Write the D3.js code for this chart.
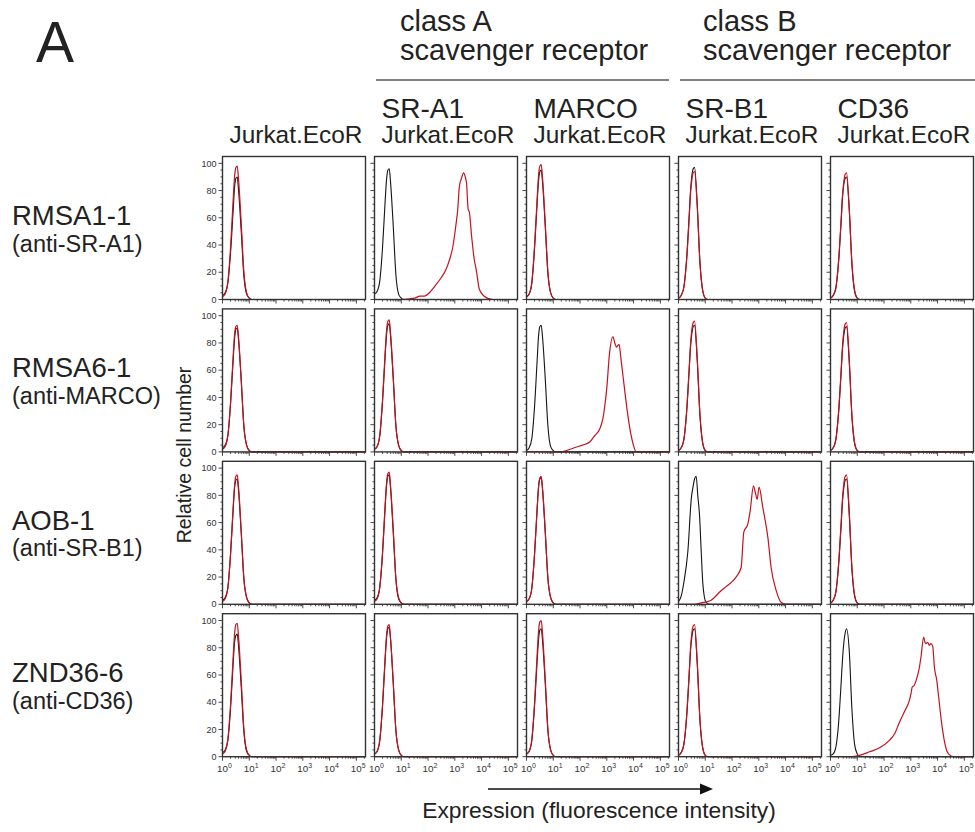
<!DOCTYPE html>
<html><head><meta charset="utf-8">
<script src="https://cdn.jsdelivr.net/npm/d3@7"></script>
<style>
body{margin:0;background:#fff;}
svg text{font-family:"Liberation Sans",Arial,Helvetica,sans-serif;fill:#222;}
</style></head><body>
<svg id="chart" width="975" height="832"></svg>
<script>
// ---------------- data ----------------
const panelLetter = "A";
const rowAntibodies = ["RMSA1-1", "RMSA6-1", "AOB-1", "ZND36-6"];
const rowTargets = ["(anti-SR-A1)", "(anti-MARCO)", "(anti-SR-B1)", "(anti-CD36)"];
const colReceptors = ["", "SR-A1", "MARCO", "SR-B1", "CD36"];
const colCellLine = "Jurkat.EcoR";
const classTitles = ["class A", "class B"];
const classSubtitle = "scavenger receptor";
const yAxisTitle = "Relative cell number";
const xAxisTitle = "Expression (fluorescence intensity)";
const yTicks = [0, 20, 40, 60, 80, 100];
const xTickExponents = [0, 1, 2, 3, 4, 5];
const xMax = 2.2e5;

// log10 fluorescence positions for the narrow (unstained / negative) peaks
const narrowGrid = [0, 0.1, 0.2, 0.3, 0.4, 0.45, 0.5, 0.55, 0.6, 0.7, 0.8, 0.9, 1.0, 1.1];

// broad stained peaks: [log10 fluorescence, relative cell number]
const srA1Stained = [[0,0],[1.0,0],[1.5,1],[1.7,2.5],[1.87,2.5],[2.05,5],[2.25,9.7],[2.49,16],[2.67,22],[2.8,29],[2.92,38],[3.05,56],[3.11,66],[3.17,83],[3.25,89],[3.33,93],[3.39,90],[3.44,85],[3.5,66],[3.54,64.5],[3.63,46],[3.73,29],[3.8,22],[3.92,7.3],[4.1,2.4],[4.3,0.5],[4.41,0]];
const marcoStained = [[0,0],[1.2,0],[1.49,1],[1.87,3.6],[2.1,5],[2.36,7.3],[2.55,12],[2.74,17],[2.85,24],[2.92,33],[3.0,47],[3.1,72],[3.23,84.5],[3.3,80],[3.36,77],[3.46,79],[3.52,70],[3.61,55],[3.7,40],[3.8,25],[3.9,13],[3.98,6],[4.1,0]];
const srB1Stained = [[0,0],[0.6,0],[0.85,1],[1.22,3],[1.59,10],[1.78,13],[1.97,16],[2.15,20],[2.34,27],[2.44,53],[2.59,59],[2.68,69],[2.8,87],[2.86,83],[2.94,77],[3.01,86],[3.15,71],[3.34,49],[3.46,27],[3.65,10],[3.83,1.5],[4.02,0]];
const srB1Control = [[0,2],[0.1,6],[0.2,16],[0.35,39],[0.48,78],[0.54,86],[0.6,92],[0.66,94],[0.72,80],[0.79,64],[0.85,38],[0.91,15],[0.97,5],[1.03,1.5],[1.15,0]];
const cd36Stained = [[0,0],[0.8,0],[1.08,1],[1.46,3.6],[1.83,6.5],[2.2,12],[2.4,17],[2.57,25],[2.76,33],[2.95,41.6],[3.01,46.5],[3.05,51],[3.13,52.5],[3.2,56],[3.3,63.5],[3.38,73],[3.48,87.8],[3.53,84],[3.57,83],[3.63,84],[3.69,81.8],[3.75,83],[3.82,81],[3.88,66],[3.97,56],[4.04,44],[4.15,25],[4.25,12],[4.35,4],[4.44,1.5],[4.6,0]];

// control (black) histograms, one row per antibody, one entry per cell line
const controlRow1 = [
  [3,5,12,34,66,82,89,90,80,50,17,4,1,0],
  [4,6,14,38,73,88,95,96,86,54,18,4,1,0],
  [2,4,12,37,72,87,94,95,86,54,19,5,1,0],
  [1,3,9,29,62,80,91,96,97,70,28,7,1,0],
  [1,3,8,27,58,75,85,89,90,66,26,6,1,0]];
const controlRow2 = [
  [3,5,12,35,68,83,90,91,82,52,18,5,1,0],
  [2,4,12,37,71,86,93,94,85,54,19,5,1,0],
  [1,3,10,33,68,85,92,93,84,54,19,4,1,0],
  [1,3,9,28,60,77,87,92,93,67,27,7,1,0],
  [1,3,9,28,59,76,86,91,92,66,26,6,1,0]];
const controlRow3 = [
  [3,5,12,36,70,85,91,92,83,52,18,5,1,0],
  [3,5,13,37,72,87,94,95,85,53,18,4,1,0],
  [2,4,12,36,71,86,92,93,84,53,19,5,1,0],
  srB1Control,
  [1,3,9,28,59,76,86,91,92,66,26,6,1,0]];
const controlRow4 = [
  [3,5,12,35,69,84,89,90,81,51,18,4,1,0],
  [2,4,12,37,72,87,94,95,86,54,19,5,1,0],
  [2,4,12,37,71,86,93,94,85,54,19,5,1,0],
  [1,3,9,28,60,78,88,93,94,68,27,7,1,0],
  [1,2,7,24,55,72,84,91,94,78,35,9,2,0]];

// stained (red) histograms
const stainedRow1 = [
  [2,4,13,38,74,90,97,98,88,56,20,5,1,0],
  srA1Stained,
  [2,4,13,39,75,91,98,99,89,56,20,5,1,0],
  [1,3,9,28,60,78,88,93,94,68,27,7,1,0],
  [1,3,9,28,60,77,87,92,93,67,27,7,1,0]];
const stainedRow2 = [
  [2,4,12,36,71,86,92,93,84,53,19,5,1,0],
  [2,4,13,38,74,89,96,97,87,55,19,5,1,0],
  marcoStained,
  [1,3,9,29,62,79,90,95,96,69,28,7,1,0],
  [1,3,9,29,61,78,89,94,95,68,27,7,1,0]];
const stainedRow3 = [
  [2,4,12,37,72,87,94,95,86,54,19,5,1,0],
  [2,4,13,38,74,89,96,97,87,55,19,5,1,0],
  [2,4,12,37,71,86,93,94,85,54,19,5,1,0],
  srB1Stained,
  [1,3,9,29,61,78,89,94,95,68,27,7,1,0]];
const stainedRow4 = [
  [2,4,13,38,74,90,97,98,88,56,20,5,1,0],
  [2,4,13,38,74,89,96,97,87,55,19,5,1,0],
  [2,4,13,39,76,92,99,100,90,57,20,5,1,0],
  [1,3,9,29,62,80,91,96,97,70,28,7,1,0],
  cd36Stained];

const controlRows = [controlRow1, controlRow2, controlRow3, controlRow4];
const stainedRows = [stainedRow1, stainedRow2, stainedRow3, stainedRow4];

// ---------------- layout ----------------
const left0 = 222.5, top0 = 156.5, pw = 143, ph = 143, colStep = 152, rowStep = 152.4;
const controlColor = "#151515", stainedColor = "#c5121f", frameColor = "#333";

const svg = d3.select("#chart");
const x = d3.scaleLog().domain([1, xMax]).range([0, pw]);
const y = d3.scaleLinear().domain([0, 105]).range([ph, 0]);
const xMaxLog = Math.log10(xMax);

function toPoints(v) {
  let pts = (typeof v[0] === "number") ? narrowGrid.map((g, i) => [g, v[i]]) : v.slice();
  pts.push([xMaxLog, 0]);
  return pts;
}
const line = d3.line()
  .x(d => x(Math.pow(10, d[0])))
  .y(d => y(d[1]))
  .curve(d3.curveMonotoneX);

const yMinor = d3.range(0, 101, 5);
const xAllTicks = [];
xTickExponents.forEach(n => { for (let k = 1; k <= 9; k++) { const v = k * Math.pow(10, n); if (v <= xMax) xAllTicks.push({v, major: k === 1, n}); } });

for (let r = 0; r < 4; r++) {
  for (let c = 0; c < 5; c++) {
    const g = svg.append("g").attr("transform", `translate(${left0 + c * colStep},${top0 + r * rowStep})`);
    g.selectAll("line.yt").data(yMinor).enter().append("line")
      .attr("x1", 0).attr("x2", d => d % 20 === 0 ? -4 : -2)
      .attr("y1", d => y(d)).attr("y2", d => y(d))
      .attr("stroke", frameColor).attr("stroke-width", 0.9);
    g.selectAll("line.xt").data(xAllTicks).enter().append("line")
      .attr("x1", d => x(d.v)).attr("x2", d => x(d.v))
      .attr("y1", ph).attr("y2", d => ph + (d.major ? 4 : 2))
      .attr("stroke", frameColor).attr("stroke-width", 0.9);
    if (c === 0) {
      g.selectAll("text.yl").data(yTicks).enter().append("text")
        .attr("x", -6).attr("y", d => y(d) + 3.2)
        .attr("text-anchor", "end").attr("font-size", 9).style("fill", "#333")
        .text(d => d);
    }
    if (r === 3) {
      const tl = g.selectAll("text.xl").data(xTickExponents).enter().append("text")
        .attr("x", d => x(Math.pow(10, d)) - 5.5).attr("y", ph + 15)
        .attr("font-size", 9.8).style("fill", "#333");
      tl.append("tspan").text("10");
      tl.append("tspan").attr("dy", -4).attr("font-size", 7).text(d => d);
    }
    g.append("path").datum(toPoints(controlRows[r][c])).attr("d", line)
      .attr("fill", "none").attr("stroke", controlColor).attr("stroke-width", 1.1);
    g.append("path").datum(toPoints(stainedRows[r][c])).attr("d", line)
      .attr("fill", "none").attr("stroke", stainedColor).attr("stroke-width", 1.2);
    g.append("rect").attr("x", 0).attr("y", 0).attr("width", pw).attr("height", ph)
      .attr("fill", "none").attr("stroke", frameColor).attr("stroke-width", 1.4);
  }
}

// panel letter
svg.append("text").attr("x", 36).attr("y", 62).attr("font-size", 57).text(panelLetter);

// class headers
const classX = [400, 703];
const classLine = [[376, 669], [680, 975]];
classTitles.forEach((t, i) => {
  svg.append("text").attr("x", classX[i]).attr("y", 31).attr("font-size", 29).text(t);
  svg.append("text").attr("x", classX[i]).attr("y", 60).attr("font-size", 29).text(classSubtitle);
  svg.append("line").attr("x1", classLine[i][0]).attr("x2", classLine[i][1])
    .attr("y1", 80).attr("y2", 80).attr("stroke", "#555").attr("stroke-width", 1.3);
});

// column headers
colReceptors.forEach((name, c) => {
  const cx = left0 + c * colStep;
  if (name) svg.append("text").attr("x", cx + 7).attr("y", 118).attr("font-size", 28).text(name);
  svg.append("text").attr("x", cx + 7).attr("y", 143).attr("font-size", 24.4).text(colCellLine);
});

// row labels
rowAntibodies.forEach((name, r) => {
  const by = 225 + r * rowStep;
  svg.append("text").attr("x", 12).attr("y", by).attr("font-size", 27.5).text(name);
  svg.append("text").attr("x", 12).attr("y", by + 26.5).attr("font-size", 23.5).text(rowTargets[r]);
});

// y axis title
svg.append("text").attr("transform", "translate(191,455) rotate(-90)")
  .attr("text-anchor", "middle").attr("font-size", 19.5).text(yAxisTitle);

// arrow and x title
svg.append("line").attr("x1", 488).attr("x2", 702).attr("y1", 789).attr("y2", 789)
  .attr("stroke", "#111").attr("stroke-width", 1.5);
svg.append("path").attr("d", "M700,783.5 L713,789 L700,794.5 Z").attr("fill", "#111");
svg.append("text").attr("x", 599).attr("y", 818).attr("text-anchor", "middle")
  .attr("font-size", 22.8).text(xAxisTitle);
</script>
</body></html>
